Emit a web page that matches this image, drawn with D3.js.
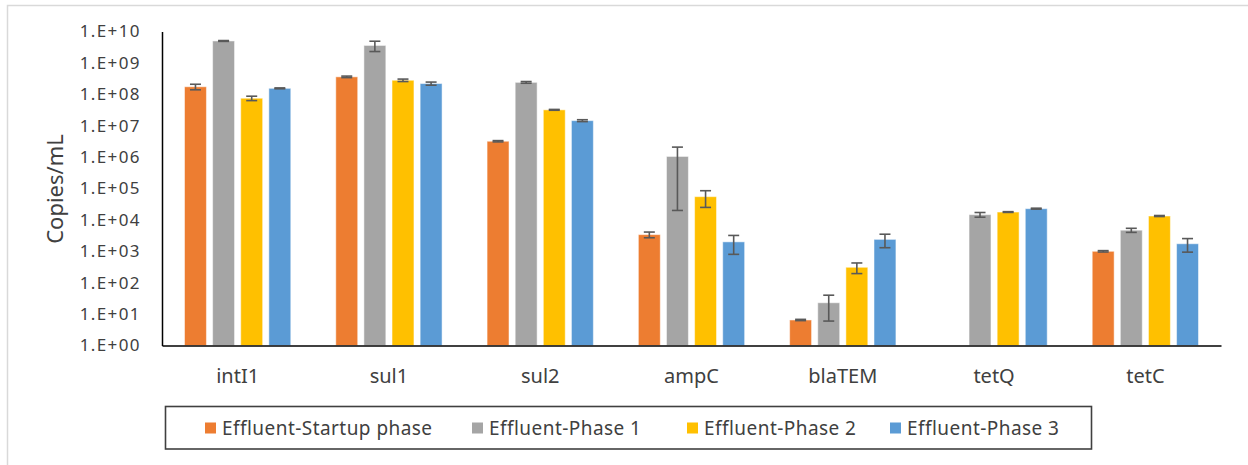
<!DOCTYPE html>
<html>
<head>
<meta charset="utf-8">
<script src="https://cdn.jsdelivr.net/npm/d3@7/dist/d3.min.js"></script>
<style>
  html, body { margin: 0; padding: 0; background: #fff; }
  svg { display: block; }
  text { font-family: "Noto Sans", "Open Sans", sans-serif; fill: #404040; }
</style>
</head>
<body>
<svg id="chart" width="1248" height="465"></svg>
<script>
// Gene targets along the x axis
const genes = ["intI1", "sul1", "sul2", "ampC", "blaTEM", "tetQ", "tetC"];

// Sampling phases (one bar per phase in each gene group)
const phases = ["Effluent-Startup phase", "Effluent-Phase 1", "Effluent-Phase 2", "Effluent-Phase 3"];
const phaseColors = ["#ED7D31", "#A5A5A5", "#FFC000", "#5B9BD5"];

// Mean copies/mL per phase, in gene order (null = not detected)
const startupMean = [1.74e8, 3.6e8, 3.2e6, 3.4e3, 6.5, null, 1.0e3];
const phase1Mean  = [5.0e9, 3.6e9, 2.4e8, 1.05e6, 23, 1.47e4, 4.7e3];
const phase2Mean  = [7.5e7, 2.8e8, 3.2e7, 5.5e4, 310, 1.78e4, 1.33e4];
const phase3Mean  = [1.55e8, 2.2e8, 1.45e7, 2.0e3, 2.4e3, 2.28e4, 1.74e3];

// Standard deviations, same layout
const startupErr = [3.5e7, 2.0e7, 1.5e5, 7.0e2, 0.3, null, 5.0e1];
const phase1Err  = [1.5e8, 1.3e9, 1.5e7, 1.03e6, 17, 2.5e3, 7.0e2];
const phase2Err  = [1.2e7, 2.5e7, 1.0e6, 3.0e4, 115, 5.0e2, 5.0e2];
const phase3Err  = [5.0e6, 2.5e7, 1.0e6, 1.2e3, 1.1e3, 8.0e2, 8.0e2];

// Log-axis tick values and their labels
const tickValues = [1e0, 1e1, 1e2, 1e3, 1e4, 1e5, 1e6, 1e7, 1e8, 1e9, 1e10];
const tickLabels = ["1.E+00", "1.E+01", "1.E+02", "1.E+03", "1.E+04", "1.E+05",
                    "1.E+06", "1.E+07", "1.E+08", "1.E+09", "1.E+10"];

const means = [startupMean, phase1Mean, phase2Mean, phase3Mean];
const errs = [startupErr, phase1Err, phase2Err, phase3Err];

const rows = [];
genes.forEach((g, gi) => {
  phases.forEach((p, pi) => {
    rows.push({ gene: g, phase: p, pi, value: means[pi][gi], err: errs[pi][gi] });
  });
});

const svg = d3.select("#chart");

// Outer chart frame (only top and left edges fall inside the view)
svg.append("path")
  .attr("d", "M7.5,465 V5.5 H1248")
  .attr("fill", "none")
  .attr("stroke", "#d9d9d9")
  .attr("stroke-width", 1.5);

const plot = { left: 162, right: 1221, top: 31.5, bottom: 345.5 };

const x0 = d3.scaleBand().domain(genes).range([plot.left, plot.right]).padding(0);
const x1 = d3.scaleBand().domain(phases)
  .range([22.5, x0.bandwidth() - 22.5])
  .paddingInner(0.22).paddingOuter(0);
const y = d3.scaleLog().domain([1, 1e10]).range([plot.bottom, plot.top]);

// Bars
svg.append("g").selectAll("rect")
  .data(rows.filter(d => d.value != null))
  .join("rect")
  .attr("x", d => x0(d.gene) + x1(d.phase))
  .attr("y", d => y(d.value))
  .attr("width", x1.bandwidth())
  .attr("height", d => plot.bottom - y(d.value))
  .attr("fill", d => phaseColors[d.pi])
  .attr("stroke", "#ffffff")
  .attr("stroke-opacity", 0.5)
  .attr("stroke-width", 1);

// Error bars
const capHalf = 5.5;
const eb = svg.append("g")
  .attr("stroke", "#595959")
  .attr("stroke-width", 1.6)
  .attr("fill", "none")
  .selectAll("g")
  .data(rows.filter(d => d.value != null && d.err != null))
  .join("g")
  .attr("transform", d => `translate(${x0(d.gene) + x1(d.phase) + x1.bandwidth() / 2},0)`);
const lo = d => y(Math.max(d.value - d.err, 1));
const hi = d => y(d.value + d.err);
eb.append("line").attr("x1", 0).attr("x2", 0).attr("y1", lo).attr("y2", hi);
eb.append("line").attr("x1", -capHalf).attr("x2", capHalf).attr("y1", lo).attr("y2", lo);
eb.append("line").attr("x1", -capHalf).attr("x2", capHalf).attr("y1", hi).attr("y2", hi);

// Y axis
const yAxis = d3.axisLeft(y)
  .tickValues(tickValues)
  .tickFormat((d, i) => tickLabels[i])
  .tickSize(0)
  .tickPadding(21);
const gy = svg.append("g").attr("transform", `translate(${plot.left},0)`).call(yAxis);
gy.select(".domain").attr("stroke", "#000").attr("stroke-width", 1.5);
gy.selectAll("text")
  .style("font-size", "17px")
  .style("letter-spacing", "1.4px")
  .attr("fill", "#404040");

// X axis
const xAxis = d3.axisBottom(x0).tickSize(0).tickPadding(23);
const gx = svg.append("g").attr("transform", `translate(0,${plot.bottom})`).call(xAxis);
gx.select(".domain").attr("stroke", "#000").attr("stroke-width", 1.5);
gx.selectAll("text")
  .style("font-size", "20px")
  .attr("fill", "#404040");

// Y axis title
svg.append("text")
  .attr("transform", "translate(63,189) rotate(-90)")
  .attr("text-anchor", "middle")
  .style("font-size", "22px")
  .text("Copies/mL");

// Legend
const legend = svg.append("g");
legend.append("rect")
  .attr("x", 165.5).attr("y", 406.5)
  .attr("width", 926).attr("height", 42.5)
  .attr("fill", "#fff")
  .attr("stroke", "#404040")
  .attr("stroke-width", 1.6);
const legendX = [205, 472, 687, 890];
const li = legend.selectAll("g.item")
  .data(phases)
  .join("g")
  .attr("class", "item")
  .attr("transform", (d, i) => `translate(${legendX[i]},422.5)`);
li.append("rect")
  .attr("width", 11).attr("height", 11)
  .attr("fill", (d, i) => phaseColors[i]);
li.append("text")
  .attr("x", 17).attr("y", 12)
  .style("font-size", "19px")
  .style("letter-spacing", "0.45px")
  .text(d => d);
</script>
</body>
</html>
